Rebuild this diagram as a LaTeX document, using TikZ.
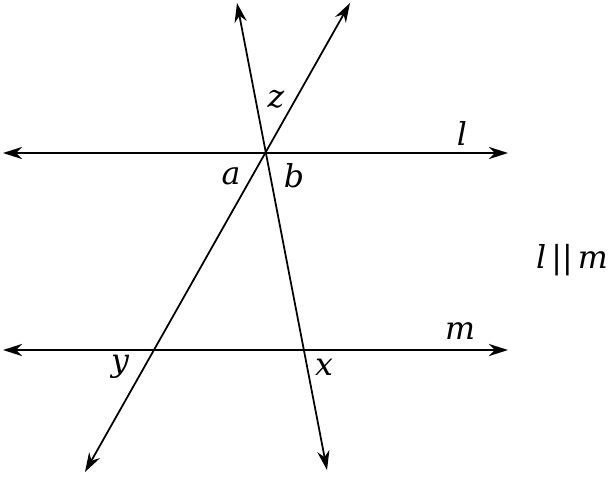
\documentclass[tikz,border=0pt]{standalone}
\usepackage{fontspec}
\setmainfont{DejaVu Serif}
\usetikzlibrary{arrows.meta}

\begin{document}
\begin{tikzpicture}[x=0.02cm, y=-0.02cm]
    \tikzset{
        ray/.style={line width=1pt, {Stealth[length=11pt,width=7pt]}-{Stealth[length=11pt,width=7pt]}},
        lbl/.style={font=\fontsize{18}{21}\selectfont\itshape}
    }
    \useasboundingbox (0,0) rectangle (609,485);

    % Parallel lines and the two transversals
    \coordinate (lL) at (3,153);   \coordinate (lR) at (508,153);
    \coordinate (mL) at (3,350);   \coordinate (mR) at (508,350);
    \coordinate (sT) at (237,3);   \coordinate (sB) at (327,470);
    \coordinate (tT) at (350,3);   \coordinate (tB) at (85,472);
    \draw[ray] (lL) -- (lR);
    \draw[ray] (mL) -- (mR);
    \draw[ray] (sT) -- (sB);
    \draw[ray] (tT) -- (tB);

    % Labels
    \node[lbl] (z) at (276,99) {z};
    \node[lbl] (l) at (462,133) {l};
    \node[lbl] (a) at (231,176) {a};
    \node[lbl] (b) at (294,176) {b};
    \node[lbl] (m) at (460,331) {m};
    \node[lbl] (y) at (120,367) {y};
    \node[lbl] (x) at (324,367) {x};
    \node[font=\fontsize{18}{21}\selectfont] (par) at (572,260) {\textit{l}\,||\,\textit{m}};
\end{tikzpicture}
\end{document}
